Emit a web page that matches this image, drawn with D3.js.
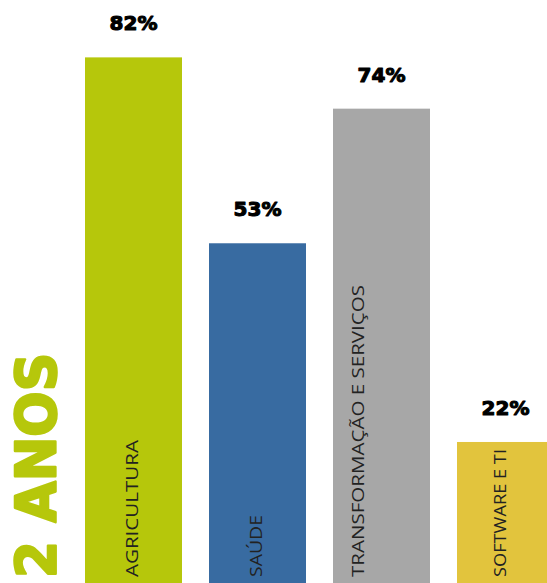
<!DOCTYPE html>
<html>
<head>
<meta charset="utf-8">
<script src="https://cdn.jsdelivr.net/npm/d3@7"></script>
<style>
  html, body { margin: 0; padding: 0; background: #fff; overflow: hidden; }
  svg { display: block; }
</style>
</head>
<body>
<svg id="chart" width="547" height="583"></svg>
<script>
const categories = ["AGRICULTURA", "SAÚDE", "TRANSFORMAÇÃO E SERVIÇOS", "SOFTWARE E TI"];
const values = [82, 53, 74, 22];
const valueLabels = ["82%", "53%", "74%", "22%"];
const colors = ["#b6c70b", "#386ba1", "#a7a7a7", "#e2c43d"];
const title = "2 ANOS";

const W = 547, H = 583;
const svg = d3.select("#chart");
svg.append("rect").attr("width", W).attr("height", H).attr("fill", "#fff");

const x = d3.scaleBand()
  .domain(categories)
  .range([85, 554])
  .paddingInner(27 / 124)
  .paddingOuter(0);

const y = d3.scaleLinear().domain([0, 100]).range([H, H - 641]);

const data = categories.map((c, i) => ({ c, v: values[i], label: valueLabels[i], color: colors[i], i }));

// bars
svg.selectAll("rect.bar").data(data).join("rect")
  .attr("class", "bar")
  .attr("x", d => x(d.c))
  .attr("y", d => y(d.v))
  .attr("width", x.bandwidth())
  .attr("height", d => H - y(d.v))
  .attr("fill", d => d.color);

// value labels
svg.selectAll("text.val").data(data).join("text")
  .attr("class", "val")
  .attr("x", d => x(d.c) + x.bandwidth() / 2)
  .attr("y", d => y(d.v) - 27)
  .attr("text-anchor", "middle")
  .attr("font-family", "'DejaVu Sans', sans-serif")
  .attr("font-weight", "bold")
  .attr("font-size", 20)
  .attr("fill", "#000")
  .attr("stroke", "#000")
  .attr("stroke-width", 1.1)
  .attr("stroke-linejoin", "round")
  .text(d => d.label);

// category labels (rotated, reading bottom to top)
const baseOffset = [53, 53, 31, 49];
const labelLen = [137, 62, 292, 128];
svg.selectAll("text.cat").data(data).join("text")
  .attr("class", "cat")
  .attr("transform", d => `translate(${x(d.c) + baseOffset[d.i]},${H - 6}) rotate(-90)`)
  .attr("font-family", "'Open Sans', sans-serif")
  .attr("font-size", 15.5)
  .attr("fill", "#222")
  .attr("textLength", d => labelLen[d.i])
  .attr("lengthAdjust", "spacingAndGlyphs")
  .text(d => d.c);

// big rotated title
svg.append("text")
  .attr("transform", `translate(55,${H - 5}) rotate(-90)`)
  .attr("font-family", "'DejaVu Sans', sans-serif")
  .attr("font-weight", "bold")
  .attr("font-size", 56)
  .attr("fill", "#b6c70b")
  .attr("stroke", "#b6c70b")
  .attr("stroke-width", 2.5)
  .attr("stroke-linejoin", "round")
  .attr("textLength", 225)
  .attr("lengthAdjust", "spacingAndGlyphs")
  .text(title);
</script>
</body>
</html>
